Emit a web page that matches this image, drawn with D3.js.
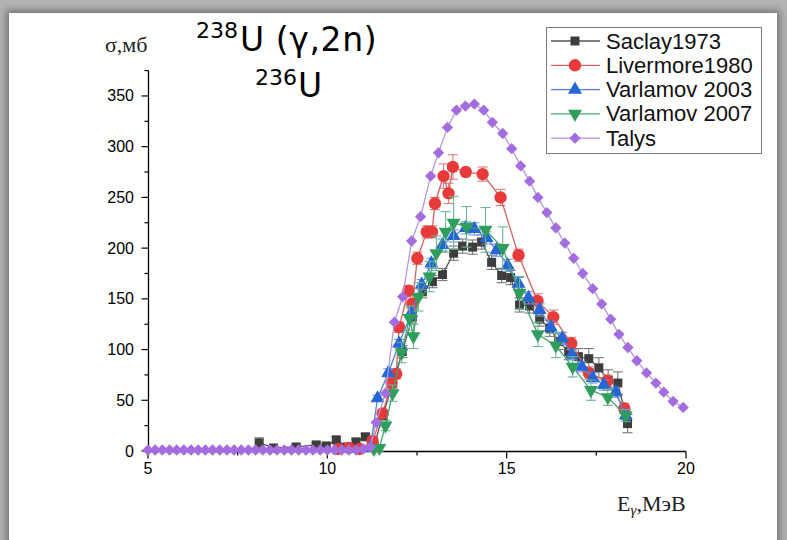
<!DOCTYPE html>
<html>
<head>
<meta charset="utf-8">
<script src="https://cdn.jsdelivr.net/npm/d3@7"></script>
<style>
body { margin: 0; width: 787px; height: 540px; overflow: hidden; background: #b3b3b3; position: relative; }
#card { position: absolute; left: 9px; top: 13px; width: 768px; height: 545px; background: #fff; box-shadow: 0 0 7px 3px rgba(0,0,0,0.35); }
#chart { position: absolute; left: 0; top: 0; }
</style>
</head>
<body>
<div id="card"></div>
<div id="chart"></div>
<script>
// dati (E in MeV, sigma in mb)
const saclayE   = [8.1, 8.5, 9.13, 9.69, 9.97, 10.25, 10.55, 10.8, 11.06, 11.3, 11.55, 11.82, 12.09, 12.37, 12.65, 12.93, 13.21, 13.52, 13.77, 14.05, 14.3, 14.58, 14.86, 15.11, 15.36, 15.64, 15.92, 16.2, 16.45, 16.73, 17.0, 17.29, 17.57, 17.83, 18.1, 18.37];
const saclayS   = [8, 3, 4, 6, 5, 11, 4, 9, 14, 5, 35, 67, 98, 132, 157, 167, 174, 195, 202, 201, 206, 186, 173, 171, 144, 143, 130, 121, 108, 98, 93, 91, 82, 70, 67, 27];
const saclayErr = [5, 2, 2, 2, 2, 3, 2, 3, 3, 3, 4, 5, 6, 6, 6, 6, 6, 7, 7, 7, 7, 7, 7, 7, 7, 7, 7, 8, 8, 8, 8, 10, 10, 10, 11, 9];

const livermoreE   = [10.3, 10.6, 10.9, 11.26, 11.54, 11.79, 11.92, 12.0, 12.26, 12.37, 12.51, 12.77, 12.92, 13.0, 13.24, 13.38, 13.5, 13.86, 14.33, 14.83, 15.33, 15.86, 16.3, 16.8, 17.29, 17.8, 18.28];
const livermoreS   = [2, 3, 2, 10, 37, 67, 76, 122, 158, 145, 190, 216, 216, 244, 271, 254, 280, 275, 273, 250, 193, 148, 132, 106, 77, 69, 42];
const livermoreErr = [1, 1, 1, 3, 4, 5, 5, 5, 5, 5, 6, 6, 6, 6, 12, 10, 12, 4, 7, 8, 6, 7, 7, 6, 6, 6, 5];

const varl2003E   = [11.2, 11.4, 11.7, 12.0, 12.34, 12.63, 12.9, 13.21, 13.52, 13.86, 14.1, 14.44, 14.72, 15.03, 15.33, 15.61, 15.92, 16.23, 16.55, 16.82, 17.1, 17.4, 17.71, 18.04, 18.32];
const varl2003S   = [3, 52, 77, 106, 136, 164, 185, 203, 212, 220, 219, 210, 198, 183, 165, 151, 139, 122, 111, 95, 83, 72, 65, 58, 35];
const varl2003Err = [1, 3, 4, 4, 5, 5, 5, 6, 6, 6, 6, 6, 6, 6, 6, 6, 6, 6, 6, 5, 5, 5, 5, 5, 4];

const varl2007E   = [11.3, 11.45, 11.62, 11.82, 12.07, 12.29, 12.4, 12.54, 12.85, 13.04, 13.3, 13.52, 13.88, 14.41, 14.89, 15.36, 15.87, 16.37, 16.84, 17.35, 17.82, 18.32];
const varl2007S   = [2, 3, 25, 57, 97, 131, 113, 152, 172, 195, 216, 225, 221, 218, 200, 156, 115, 104, 83, 60, 53, 35];
const varl2007Err = [2, 3, 5, 8, 10, 12, 12, 14, 15, 17, 20, 26, 20, 22, 21, 16, 12, 12, 10, 10, 8, 6];

const talysE = [5.0, 5.2, 5.4, 5.6, 5.8, 6.0, 6.2, 6.4, 6.6, 6.8, 7.0, 7.2, 7.4, 7.6, 7.8, 8.0, 8.2, 8.4, 8.6, 8.8, 9.0, 9.2, 9.4, 9.6, 9.8, 10.0, 10.2, 10.4, 10.6, 10.8, 11.0, 11.2,
  11.36, 11.62, 11.87, 12.1, 12.35, 12.6, 12.88, 13.1, 13.35, 13.6, 13.85, 14.1, 14.36, 14.6, 14.89, 15.14, 15.39, 15.64, 15.87, 16.12, 16.37, 16.62, 16.87, 17.12, 17.4, 17.65, 17.9, 18.13, 18.38, 18.63, 18.9, 19.16, 19.38, 19.64, 19.92];
const talysS = [1, 1, 1, 1, 1, 1, 1, 1, 1, 1, 1, 1, 1, 1, 1, 1, 1, 1, 1, 1, 1, 1, 1, 1, 1, 1, 1, 1, 1, 1, 2, 4,
  28, 57, 127, 152, 207, 231, 271, 294, 319, 336, 340, 342, 336, 324, 313, 298, 281, 266, 250, 235, 220, 205, 190, 175, 160, 145, 130, 115, 102, 89, 77, 67, 58, 49, 43];

const xTicks = [5, 10, 15, 20];
const yTicks = [0, 50, 100, 150, 200, 250, 300, 350];
const seriesNames = ['Saclay1973', 'Livermore1980', 'Varlamov 2003', 'Varlamov 2007', 'Talys'];

const width = 787, height = 540;
const svg = d3.select('#chart').append('svg')
    .attr('width', width)
    .attr('height', height);

const x = d3.scaleLinear().domain([5, 20]).range([148, 686]);
const y = d3.scaleLinear().domain([0, 375]).range([451, 70.6]);

// serie: colore marker, colore linea, simbolo
const series = [
    { name: seriesNames[0], E: saclayE, S: saclayS, err: saclayErr, fill: '#3d3d3d', line: '#555', bar: '#777', sym: d3.symbolSquare, size: 81, rot: 0 },
    { name: seriesNames[1], E: livermoreE, S: livermoreS, err: livermoreErr, fill: '#e83a3a', line: '#d76262', bar: '#d97a7a', sym: d3.symbolCircle, size: 120, rot: 0 },
    { name: seriesNames[2], E: varl2003E, S: varl2003S, err: varl2003Err, fill: '#2466d6', line: '#4f85d6', bar: '#6f96d6', sym: d3.symbolTriangle, size: 85, rot: 0 },
    { name: seriesNames[3], E: varl2007E, S: varl2007S, err: varl2007Err, fill: '#2f9e5c', line: '#45a373', bar: '#6db592', sym: d3.symbolTriangle, size: 85, rot: 180 },
    { name: seriesNames[4], E: talysE, S: talysS, err: null, fill: '#a46ddf', line: '#b595e0', bar: null, sym: d3.symbolSquare, size: 64, rot: 45 }
];

// assi
const gx = svg.append('g');
gx.append('line').attr('x1', x(5)).attr('x2', x(20)).attr('y1', 451.5).attr('y2', 451.5)
    .attr('stroke', '#000').attr('stroke-width', 1.3);
d3.range(5, 20.01, 2.5).forEach(v => {
    const major = xTicks.includes(v);
    gx.append('line').attr('x1', x(v)).attr('x2', x(v)).attr('y1', 451.5).attr('y2', 451.5 + (major ? 7 : 4))
        .attr('stroke', '#000').attr('stroke-width', 1.2);
});
xTicks.forEach(v => {
    gx.append('text').attr('x', x(v)).attr('y', 474)
        .attr('text-anchor', 'middle')
        .style('font-family', 'Liberation Sans, Arial, sans-serif')
        .style('font-size', '16px')
        .text(v);
});

const gy = svg.append('g');
gy.append('line').attr('x1', 148.5).attr('x2', 148.5).attr('y1', y(375)).attr('y2', 452)
    .attr('stroke', '#000').attr('stroke-width', 1.3);
d3.range(0, 375.1, 25).forEach(v => {
    const major = v % 50 === 0;
    gy.append('line').attr('x1', 148.5 - (major ? 7 : 4)).attr('x2', 148.5).attr('y1', y(v)).attr('y2', y(v))
        .attr('stroke', '#000').attr('stroke-width', 1.2);
});
yTicks.forEach(v => {
    gy.append('text').attr('x', 134).attr('y', y(v) + 5.5)
        .attr('text-anchor', 'end')
        .style('font-family', 'Liberation Sans, Arial, sans-serif')
        .style('font-size', '16px')
        .text(v);
});

// etichette assi
svg.append('text').attr('x', 105).attr('y', 52)
    .style('font-family', 'Liberation Serif, Times New Roman, serif')
    .style('font-size', '22px').attr('fill', '#222')
    .text('σ,мб');

const xl = svg.append('text').attr('x', 617).attr('y', 511)
    .style('font-family', 'Liberation Serif, Times New Roman, serif')
    .style('font-size', '22px').attr('fill', '#222');
xl.append('tspan').text('E');
xl.append('tspan').attr('dy', 4).style('font-size', '15px').style('font-style', 'italic').text('γ');
xl.append('tspan').attr('dy', -4).text(',МэВ');

// titolo
const tf = 'DejaVu Sans, Verdana, sans-serif';
svg.append('text').attr('x', 196).attr('y', 38).style('font-family', tf).style('font-size', '22px').text('238');
svg.append('text').attr('x', 240).attr('y', 51).style('font-family', tf).style('font-size', '33px')
    .style('letter-spacing', '0.6px').text('U (γ,2n)');
svg.append('text').attr('x', 255).attr('y', 85).style('font-family', tf).style('font-size', '22px').text('236');
svg.append('text').attr('x', 298).attr('y', 97).style('font-family', tf).style('font-size', '33px').text('U');

// dati
const lineGen = d3.line().x(d => x(d[0])).y(d => y(d[1]));

series.forEach(s => {
    const pts = s.E.map((e, i) => [e, s.S[i], s.err ? s.err[i] : 0]);
    const g = svg.append('g');

    if (s.err) {
        pts.forEach(p => {
            if (p[2] < 2) return;
            const px = x(p[0]);
            g.append('line').attr('x1', px).attr('x2', px).attr('y1', y(p[1] - p[2])).attr('y2', y(p[1] + p[2]))
                .attr('stroke', s.bar).attr('stroke-width', 1.1);
            [p[1] - p[2], p[1] + p[2]].forEach(v => {
                g.append('line').attr('x1', px - 5).attr('x2', px + 5).attr('y1', y(v)).attr('y2', y(v))
                    .attr('stroke', s.bar).attr('stroke-width', 1.1);
            });
        });
    }

    g.append('path').datum(pts)
        .attr('d', lineGen)
        .attr('fill', 'none')
        .attr('stroke', s.line)
        .attr('stroke-width', 1.3);

    g.selectAll('path.m').data(pts).enter().append('path')
        .attr('class', 'm')
        .attr('d', d3.symbol().type(s.sym).size(s.size))
        .attr('transform', d => `translate(${x(d[0])},${y(d[1])}) rotate(${s.rot})`)
        .attr('fill', s.fill);
});

// legenda
const lg = svg.append('g');
lg.append('rect').attr('x', 546.5).attr('y', 27.5).attr('width', 215).attr('height', 126)
    .attr('fill', '#fff').attr('stroke', '#777').attr('stroke-width', 1);
series.forEach((s, i) => {
    const ly = 41 + i * 24.3;
    lg.append('line').attr('x1', 551).attr('x2', 600).attr('y1', ly).attr('y2', ly)
        .attr('stroke', s.line).attr('stroke-width', 1.3);
    lg.append('path')
        .attr('d', d3.symbol().type(s.sym).size(s.size))
        .attr('transform', `translate(575,${ly}) rotate(${s.rot})`)
        .attr('fill', s.fill);
    lg.append('text').attr('x', 606).attr('y', ly + 7.5)
        .style('font-family', 'Liberation Sans, Arial, sans-serif')
        .style('font-size', '22px').attr('fill', '#111')
        .text(s.name);
});
</script>
</body>
</html>
